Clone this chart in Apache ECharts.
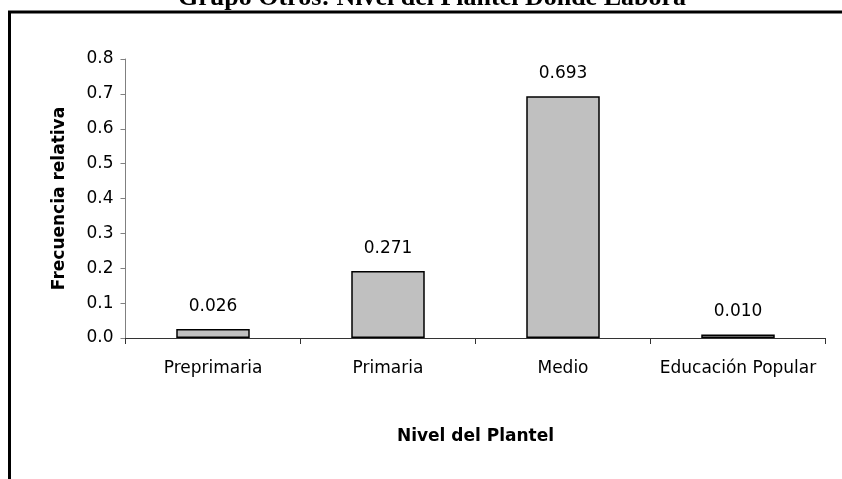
<!DOCTYPE html>
<html>
<head>
<meta charset="utf-8">
<script src="https://cdn.jsdelivr.net/npm/echarts@6/dist/echarts.min.js"></script>
<style>
html,body{margin:0;padding:0;background:#fff;}
#chart{width:842px;height:479px;}
</style>
</head>
<body>
<div id="chart"></div>
<script>
const titleText = 'Grupo Otros: Nivel del Plantel Donde Labora';
const categories = ['Preprimaria', 'Primaria', 'Medio', 'Educación Popular'];
// bar heights as drawn in the picture
const values = [0.026, 0.192, 0.693, 0.010];
// data labels as printed in the picture
const valueLabels = ['0.026', '0.271', '0.693', '0.010'];
const yTicks = [0, 0.1, 0.2, 0.3, 0.4, 0.5, 0.6, 0.7, 0.8];
const xAxisName = 'Nivel del Plantel';
const yAxisName = 'Frecuencia relativa';

const FONT = 'DejaVu Sans';
const chart = echarts.init(document.getElementById('chart'), null, {renderer: 'canvas'});
chart.setOption({
  backgroundColor: '#fff',
  animation: false,
  graphic: [
    {
      type: 'rect', z: 100,
      shape: {x: 9.5, y: 12, width: 900, height: 600},
      style: {fill: 'none', stroke: '#000', lineWidth: 3}
    },
    {
      type: 'text', z: 100, x: 432, y: -2,
      style: {
        text: titleText, align: 'center', verticalAlign: 'middle',
        font: 'bold 26px "Liberation Serif"', fill: '#000'
      }
    }
  ],
  grid: {left: 125.5, right: 16.5, top: 59, bottom: 141, containLabel: false},
  xAxis: {
    type: 'category',
    data: categories,
    name: xAxisName,
    nameLocation: 'middle',
    nameGap: 90,
    nameTextStyle: {fontFamily: FONT, fontWeight: 'bold', fontSize: 17, color: '#000'},
    axisLine: {lineStyle: {color: '#333', width: 1}},
    axisTick: {show: true, length: 6, inside: false, alignWithLabel: false, lineStyle: {color: '#333'}},
    axisLabel: {fontFamily: FONT, fontSize: 17, color: '#000', margin: 22, interval: 0}
  },
  yAxis: {
    type: 'value',
    min: 0, max: 0.8, interval: 0.1,
    name: yAxisName,
    nameLocation: 'middle',
    nameGap: 57,
    nameRotate: 90,
    nameTextStyle: {fontFamily: FONT, fontWeight: 'bold', fontSize: 17, color: '#000'},
    axisLine: {show: true, lineStyle: {color: '#808080', width: 1}},
    axisTick: {show: true, length: 5, inside: false, lineStyle: {color: '#808080'}},
    splitLine: {show: false},
    axisLabel: {
      fontFamily: FONT, fontSize: 17, color: '#000', margin: 12,
      formatter: v => {
        const t = yTicks.find(x => Math.abs(x - v) < 1e-9);
        return (t !== undefined ? t : v).toFixed(1);
      }
    }
  },
  series: [{
    type: 'bar',
    data: values,
    barWidth: '42%',
    itemStyle: {color: '#C0C0C0', borderColor: '#000', borderWidth: 1.5},
    label: {
      show: true, position: 'top', distance: 14,
      fontFamily: FONT, fontSize: 17, color: '#000',
      formatter: p => valueLabels[p.dataIndex]
    }
  }]
});
</script>
</body>
</html>
